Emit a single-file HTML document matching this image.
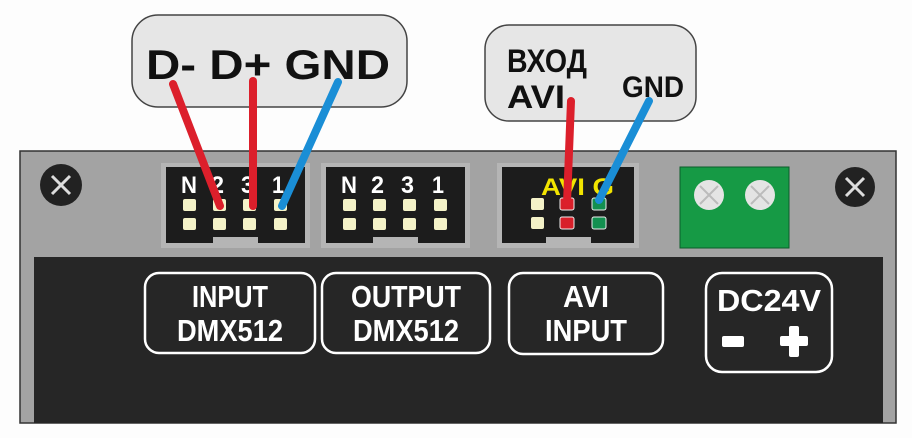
<!DOCTYPE html>
<html><head><meta charset="utf-8"><style>html,body{margin:0;padding:0;background:#fff;}svg{display:block}</style></head>
<body>
<svg width="912" height="438" viewBox="0 0 912 438" xmlns="http://www.w3.org/2000/svg" font-family="Liberation Sans, sans-serif" font-weight="bold">
<rect width="912" height="438" fill="#fdfdfd"/>
<!-- bubbles -->
<rect x="132" y="15" width="275" height="92" rx="26" fill="#e6e6e6" stroke="#444" stroke-width="1.5"/>
<text x="146" y="79" font-size="42" fill="#111" textLength="244" lengthAdjust="spacingAndGlyphs">D- D+ GND</text>
<rect x="485" y="25" width="211" height="96" rx="24" fill="#e6e6e6" stroke="#444" stroke-width="1.5"/>
<text x="507" y="72" font-size="32" fill="#111" textLength="80" lengthAdjust="spacingAndGlyphs" font-family="Liberation Sans, DejaVu Sans, sans-serif">ВХОД</text>
<text x="507" y="108" font-size="32" fill="#111" textLength="58" lengthAdjust="spacingAndGlyphs">AVI</text>
<text x="622" y="97" font-size="30" fill="#111" textLength="62" lengthAdjust="spacingAndGlyphs">GND</text>
<!-- panel -->
<rect x="20" y="151" width="876" height="272" fill="#a3a3a3" stroke="#333" stroke-width="1.5"/>
<rect x="34" y="257" width="849" height="166" fill="#262626"/>
<!-- screws -->
<circle cx="61" cy="185" r="21" fill="#222"/>
<path d="M52 176L70 194M70 176L52 194" stroke="#ddd" stroke-width="3"/>
<circle cx="855" cy="187" r="20" fill="#222"/>
<path d="M846 178L864 196M864 178L846 196" stroke="#ddd" stroke-width="3"/>
<!-- connector 1 -->
<rect x="161" y="163" width="149" height="85" fill="#b5b5b5"/>
<path d="M166 167H305V243H258V237H213V243H166Z" fill="#1c1c1c"/>
<g fill="#fff" font-size="24"><text x="181" y="193" textLength="16" lengthAdjust="spacingAndGlyphs">N</text><text x="211" y="193" textLength="13" lengthAdjust="spacingAndGlyphs">2</text><text x="241" y="193" textLength="13" lengthAdjust="spacingAndGlyphs">3</text><text x="272" y="193" textLength="12" lengthAdjust="spacingAndGlyphs">1</text></g>
<g fill="#f4f2c8"><rect x="183" y="199" width="13" height="12" rx="2"/><rect x="213" y="199" width="13" height="12" rx="2"/><rect x="243" y="199" width="13" height="12" rx="2"/><rect x="274" y="199" width="13" height="12" rx="2"/>
<rect x="183" y="218" width="13" height="12" rx="2"/><rect x="213" y="218" width="13" height="12" rx="2"/><rect x="243" y="218" width="13" height="12" rx="2"/><rect x="274" y="218" width="13" height="12" rx="2"/></g>
<!-- connector 2 -->
<rect x="321" y="163" width="149" height="85" fill="#b5b5b5"/>
<path d="M326 167H465V243H418V237H373V243H326Z" fill="#1c1c1c"/>
<g fill="#fff" font-size="24"><text x="341" y="193" textLength="16" lengthAdjust="spacingAndGlyphs">N</text><text x="371" y="193" textLength="13" lengthAdjust="spacingAndGlyphs">2</text><text x="401" y="193" textLength="13" lengthAdjust="spacingAndGlyphs">3</text><text x="432" y="193" textLength="12" lengthAdjust="spacingAndGlyphs">1</text></g>
<g fill="#f4f2c8"><rect x="343" y="199" width="13" height="12" rx="2"/><rect x="373" y="199" width="13" height="12" rx="2"/><rect x="403" y="199" width="13" height="12" rx="2"/><rect x="434" y="199" width="13" height="12" rx="2"/>
<rect x="343" y="218" width="13" height="12" rx="2"/><rect x="373" y="218" width="13" height="12" rx="2"/><rect x="403" y="218" width="13" height="12" rx="2"/><rect x="434" y="218" width="13" height="12" rx="2"/></g>
<!-- AVI connector -->
<rect x="497" y="163" width="142" height="85" fill="#b5b5b5"/>
<path d="M502 167H634V243H591V237H546V243H502Z" fill="#1c1c1c"/>
<text x="541" y="195" font-size="24" fill="#f2e400" textLength="73" lengthAdjust="spacingAndGlyphs">AVI G</text>
<rect x="531" y="198" width="13" height="12" rx="2" fill="#f4f2c8"/><rect x="531" y="217" width="13" height="12" rx="2" fill="#f4f2c8"/>
<rect x="560" y="198" width="14" height="12" rx="2" fill="#d8202a" stroke="#eee" stroke-width="1"/><rect x="560" y="217" width="14" height="12" rx="2" fill="#d8202a" stroke="#eee" stroke-width="1"/>
<rect x="592" y="198" width="14" height="12" rx="2" fill="#139050" stroke="#eee" stroke-width="1"/><rect x="592" y="217" width="14" height="12" rx="2" fill="#139050" stroke="#eee" stroke-width="1"/>
<!-- green terminal -->
<rect x="680" y="167" width="109" height="81" fill="#169a45" stroke="#0b5e2a" stroke-width="1"/>
<circle cx="709" cy="195" r="15" fill="#e4e4e4"/><path d="M700 186L718 204M718 186L700 204" stroke="#bbb" stroke-width="2"/>
<circle cx="760" cy="195" r="15" fill="#e4e4e4"/><path d="M751 186L769 204M769 186L751 204" stroke="#bbb" stroke-width="2"/>
<!-- wires -->
<g stroke-width="8" stroke-linecap="round" fill="none">
<path d="M173 84L220 206" stroke="#dc1f2b"/>
<path d="M253 81L253 206" stroke="#dc1f2b"/>
<path d="M338 82L282 206" stroke="#1a8ed6"/>
<path d="M571 101L567 203" stroke="#dc1f2b"/>
<path d="M649 101L599 200" stroke="#1a8ed6"/>
</g>
<!-- labels -->
<g fill="none" stroke="#fff" stroke-width="2.5">
<rect x="145" y="273" width="170" height="80" rx="14"/>
<rect x="322" y="273" width="168" height="80" rx="14"/>
<rect x="509" y="273" width="154" height="81" rx="14"/>
<rect x="706" y="273" width="126" height="99" rx="16"/>
</g>
<g fill="#fff" font-size="31" text-anchor="middle">
<text x="230" y="307" textLength="76" lengthAdjust="spacingAndGlyphs">INPUT</text>
<text x="230" y="341" textLength="106" lengthAdjust="spacingAndGlyphs">DMX512</text>
<text x="406" y="307" textLength="110" lengthAdjust="spacingAndGlyphs">OUTPUT</text>
<text x="406" y="341" textLength="106" lengthAdjust="spacingAndGlyphs">DMX512</text>
<text x="586" y="307" textLength="46" lengthAdjust="spacingAndGlyphs">AVI</text>
<text x="586" y="341" textLength="82" lengthAdjust="spacingAndGlyphs">INPUT</text>
<text x="769" y="311" textLength="104" lengthAdjust="spacingAndGlyphs">DC24V</text>
</g>
<rect x="722" y="336" width="22" height="11" rx="2" fill="#fff"/>
<rect x="780" y="336" width="28" height="10" rx="2" fill="#fff"/>
<rect x="789" y="326" width="10" height="31" rx="2" fill="#fff"/>
</svg>
</body></html>
